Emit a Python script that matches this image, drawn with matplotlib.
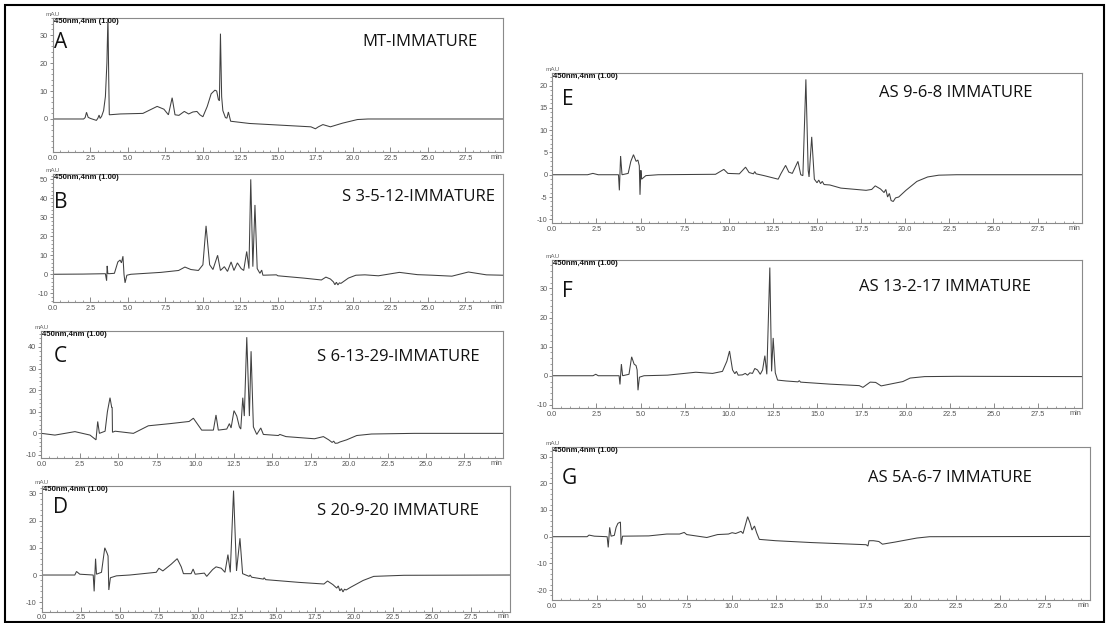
import matplotlib
matplotlib.use("Agg")
import matplotlib.pyplot as plt
from matplotlib.ticker import MultipleLocator
from matplotlib.patches import Rectangle

# ---------------- data (retention time in min, absorbance in mAU) ----------------
tA = [0, 2.05, 2.15, 2.24, 2.35, 2.5, 2.9, 3.0, 3.08, 3.15,
      3.25, 3.38, 3.5, 3.6, 3.67, 3.72, 3.76, 4.5, 6.0, 6.95,
      7.4, 7.7, 7.95, 8.14, 8.4, 8.76, 9.05, 9.33, 9.6, 9.8,
      10.0, 10.29, 10.55, 10.8, 10.92, 11.03, 11.1, 11.17, 11.25, 11.33,
      11.5, 11.6, 11.7, 11.85, 13.1, 15.5, 17.2, 17.5, 17.7, 18.0,
      18.5, 19.3, 20.3, 21.0, 30.0]
vA = [0, 0, 0.5, 2.4, 0.6, 0.2, -0.5, 0.3, 1.4, 0.2,
      1.0, 3.0, 8.0, 20.0, 37.0, 15.0, 1.5, 1.8, 2.0, 4.5,
      3.5, 1.5, 7.6, 1.5, 1.3, 2.7, 1.8, 2.5, 2.7, 1.5,
      0.8, 4.5, 9.0, 10.3, 10.0, 7.0, 6.5, 30.5, 8.0, 3.0,
      0.5, 0.3, 2.5, -0.8, -1.6, -2.3, -2.8, -3.5, -2.8, -2.0,
      -2.8, -1.5, -0.2, 0.0, 0.0]

tB = [0, 2.0, 3.5, 3.58, 3.62, 3.66, 3.72,
      4.1, 4.33, 4.48, 4.57, 4.67, 4.74, 4.81, 4.93, 5.2,
      7.2, 8.38, 8.8, 9.2, 9.7, 10.0, 10.21, 10.45, 10.67, 10.98,
      11.17, 11.43, 11.64, 11.88, 12.07, 12.3, 12.55, 12.72, 12.92, 13.07,
      13.19, 13.33, 13.47, 13.62, 13.8, 13.92, 14.0, 14.9, 15.0, 16.7,
      17.9, 18.2, 18.5, 18.7, 18.8, 18.9, 19.0, 19.1, 19.2, 19.7,
      20.2, 20.8, 21.7, 23.1, 24.3, 25.3, 26.6, 27.7, 28.9, 30.0]
vB = [0, 0.1, 0.3, -3.4, 4.4, 0.5, 0.3,
      0.5, 6.5, 7.5, 6.0, 9.5, 0.0, -4.5, -0.5, 0.0,
      1.0, 2.0, 3.8, 2.5, 2.0, 5.0, 25.5, 5.0, 2.5, 10.0,
      2.0, 4.0, 1.5, 6.5, 2.0, 6.0, 3.0, 2.0, 12.0, 3.0,
      50.0, 4.0, 36.5, 3.0, 0.5, 2.2, -0.5, -0.3, -0.8, -2.0,
      -3.0, -1.5, -2.5, -4.0, -5.5, -4.2, -5.6, -4.5, -4.8, -2.0,
      -0.5, -0.3, -0.8, 1.0, -0.2, -0.5, -1.0, 1.2, -0.3, -0.5]

tC = [0, 0.88, 2.18, 3.16, 3.55, 3.66, 3.77, 4.14, 4.29, 4.46,
      4.57, 4.6, 4.62, 4.79, 5.98, 6.95, 8.36, 9.6, 9.88, 10.42,
      11.18, 11.35, 11.5, 12.05, 12.22, 12.33, 12.52, 12.7, 12.87, 12.96,
      13.09, 13.19, 13.35, 13.52, 13.63, 13.78, 14.0, 14.26, 14.43, 15.4,
      15.5, 15.9, 17.75, 18.33, 18.68, 18.9, 19.0, 19.1, 19.26, 19.4,
      19.84, 20.5, 21.46, 24.25, 30.0]
vC = [0, -0.8, 0.8, -0.8, -3.0, 5.5, 0.0, 1.0, 10.0, 16.5,
      12.0, 12.0, 0.5, 1.0, 0.0, 3.5, 4.5, 5.5, 7.0, 1.5,
      1.5, 8.5, 1.5, 2.0, 4.5, 2.5, 10.5, 8.0, 3.0, 2.0,
      16.5, 8.0, 44.5, 8.0, 38.0, 3.0, -0.5, 2.5, -0.5, -1.0,
      -0.5, -1.5, -2.5, -1.5, -3.0, -4.2, -3.6, -4.6, -4.5, -4.0,
      -3.0, -1.0, -0.3, 0.0, 0.0]

tD = [0, 2.12, 2.23, 2.44, 3.3, 3.36, 3.45, 3.51, 3.83, 4.04,
      4.19, 4.25, 4.3, 4.4, 4.79, 5.64, 7.34, 7.51, 7.76, 8.3,
      8.68, 8.94, 9.08, 9.57, 9.7, 9.83, 10.42, 10.57, 10.95, 11.17,
      11.5, 11.74, 11.93, 12.08, 12.29, 12.48, 12.7, 12.87, 13.29, 13.35,
      13.45, 14.2, 14.25, 14.35, 16.48, 18.08, 18.31, 18.65, 18.9, 19.0,
      19.1, 19.2, 19.3, 19.4, 19.5, 19.79, 20.59, 21.27, 23.2, 30.0]
vD = [0, 0, 1.3, 0.3, 0, -6.0, 6.0, 0.3, 1.0, 10.0,
      8.0, 7.0, -5.5, -1.0, -0.3, 0.0, 1.0, 2.5, 1.5, 4.0,
      6.0, 3.0, 0.5, 0.5, 2.2, 0.3, 0.7, -0.5, 2.0, 3.0,
      2.5, 1.0, 7.5, 1.0, 31.0, 1.5, 13.5, 0.5, -0.5, 0.0,
      -0.8, -1.5, -1.0, -1.7, -2.7, -3.3, -2.2, -3.5, -4.8, -4.0,
      -5.8, -5.0, -6.2, -5.2, -5.5, -4.5, -2.0, -0.5, -0.1, 0.0]

tE = [0, 2.0, 2.3, 2.6, 3.75, 3.8, 3.87, 3.95, 4.3, 4.45,
      4.6, 4.75, 4.85, 4.93, 4.97, 5.02, 5.06, 5.3, 6.0, 9.25,
      9.72, 9.95, 10.6, 10.95, 11.15, 11.4, 11.47, 11.55, 12.0, 12.8,
      12.95, 13.22, 13.4, 13.6, 13.92, 14.08, 14.2, 14.37, 14.5, 14.55,
      14.7, 14.85, 15.0, 15.1, 15.2, 15.3, 15.4, 15.73, 16.35, 17.78,
      18.1, 18.3, 18.6, 18.8, 18.9, 19.0, 19.1, 19.2, 19.32, 19.45,
      19.63, 20.04, 20.66, 21.27, 21.9, 22.9, 30.0]
vE = [0, 0, 0.3, 0, 0, -3.5, 4.2, 0, 0.3, 3.0,
      4.5, 3.0, 3.3, 2.0, -4.5, 1.0, -1.0, -0.2, 0, 0.1,
      1.2, 0.3, 0.2, 1.7, 0.5, 0.2, 0.7, 0.2, -0.2, -1.0,
      0.2, 2.1, 0.6, 0.3, 3.0, 0.0, -0.2, 21.4, 1.0, -0.5,
      8.5, -1.0, -1.8, -1.2, -2.0, -1.5, -2.2, -2.3, -3.0, -3.5,
      -3.3, -2.5, -3.2, -4.0, -3.3, -5.0, -4.2, -5.8, -6.0, -5.2,
      -5.0, -3.5, -1.5, -0.5, -0.1, 0.0, 0.0]

tF = [0, 2.3, 2.46, 2.6, 3.78, 3.83, 3.91, 3.98, 4.34, 4.49,
      4.63, 4.74, 4.8, 4.85, 4.93, 5.19, 6.52, 8.12, 9.07, 9.63,
      9.88, 10.03, 10.2, 10.33, 10.42, 10.52, 10.76, 10.92, 11.05, 11.18,
      11.33, 11.46, 11.61, 11.77, 11.9, 12.03, 12.14, 12.31, 12.41, 12.5,
      12.62, 12.75, 13.22, 13.9, 13.98, 14.05, 15.73, 17.37, 17.58, 17.99,
      18.3, 18.61, 19.43, 19.84, 20.25, 21.07, 22.9, 30.0]
vF = [0, 0, 0.5, 0, 0, -3.0, 4.0, 0, 0.5, 6.5,
      4.0, 3.5, 2.0, -5.0, -0.5, 0, 0.2, 1.2, 0.8, 1.5,
      5.0, 8.5, 2.0, 0.7, 1.5, 0.2, 0.3, 0.8, 0.2, 1.0,
      0.8, 2.5, 2.0, 0.5, 2.0, 6.9, 0.5, 37.2, 1.5, 13.0,
      1.0, -1.5, -1.8, -2.1, -1.7, -2.2, -2.9, -3.4, -4.0, -2.2,
      -2.3, -3.5, -2.5, -2.0, -0.8, -0.3, -0.2, -0.3]

tG = [0, 1.94, 2.05, 2.35, 3.06, 3.12, 3.2, 3.28, 3.46, 3.56,
      3.66, 3.8, 3.84, 3.92, 5.38, 6.39, 7.1, 7.36, 7.5, 8.62,
      9.22, 9.83, 10.03, 10.23, 10.53, 10.64, 10.9, 11.04, 11.14, 11.28,
      11.4, 11.55, 12.46, 14.48, 17.51, 17.61, 17.67, 17.92, 18.22, 18.42,
      19.13, 19.53, 20.34, 21.05, 30.0]
vG = [0, 0, 0.6, 0.2, 0, -4.0, 3.5, 0.2, 0.5, 3.5,
      5.0, 5.5, -3.0, 0.2, 0.3, 1.0, 1.0, 1.6, 0.8, -0.3,
      0.8, 1.0, 1.5, 1.2, 2.0, 1.2, 7.5, 5.0, 2.5, 4.0,
      1.5, -1.0, -1.5, -2.2, -3.0, -3.5, -1.5, -1.5, -1.8, -2.8,
      -2.0, -1.5, -0.5, 0.0, 0.1]

letters = ["A", "B", "C", "D", "E", "F", "G"]
titles = ["MT-IMMATURE", "S 3-5-12-IMMATURE", "S 6-13-29-IMMATURE",
          "S 20-9-20 IMMATURE", "AS 9-6-8 IMMATURE", "AS 13-2-17 IMMATURE",
          "AS 5A-6-7 IMMATURE"]
yticks_list = [[0, 10, 20, 30], [-10, 0, 10, 20, 30, 40, 50],
               [-10, 0, 10, 20, 30, 40], [-10, 0, 10, 20, 30],
               [-10, -5, 0, 5, 10, 15, 20], [-10, 0, 10, 20, 30],
               [-20, -10, 0, 10, 20, 30]]
xtick_vals = [0.0, 2.5, 5.0, 7.5, 10.0, 12.5, 15.0, 17.5, 20.0, 22.5, 25.0, 27.5]
series = [(tA, vA), (tB, vB), (tC, vC), (tD, vD), (tE, vE), (tF, vF), (tG, vG)]

# ---------------- layout (pixel positions) ----------------
W, H = 1108, 623
boxes = [(52.9, 18.0, 502.9, 152.0), (52.9, 174.0, 502.9, 302.0),
         (41.4, 330.7, 502.9, 458.0), (41.7, 486.0, 510.0, 611.5),
         (552.3, 72.7, 1081.7, 223.3), (552.3, 260.0, 1082.4, 408.3),
         (552.3, 446.7, 1090.0, 600.0)]
ylims = [(-11.8, 36.1), (-14.6, 52.8), (-11.4, 47.5), (-13.4, 32.7),
         (-10.9, 22.9), (-11.2, 39.8), (-23.7, 33.7)]
yminor = [2, 2, 2, 2, 1, 2, 2]
title_pos = [(362.5, 42.3), (342.0, 197.0), (317.0, 356.7), (317.0, 510.7),
             (878.8, 93.3), (858.8, 286.7), (867.9, 478.3)]
letter_pos = [(53.6, 42.0), (53.6, 203.0), (53.6, 356.7), (53.0, 507.3),
              (561.7, 99.3), (561.7, 291.7), (561.7, 478.3)]

fig = plt.figure(figsize=(W / 100, H / 100), dpi=100)
fig.patch.set_facecolor("white")

TICKFONT = "Liberation Sans"
for i in range(7):
    x0, y0, x1, y1 = boxes[i]
    ax = fig.add_axes([x0 / W, 1 - y1 / H, (x1 - x0) / W, (y1 - y0) / H])
    t, v = series[i]
    ax.plot(t, v, color="#404040", lw=0.75, solid_joinstyle="miter")
    ax.set_xlim(0, 30)
    ax.set_ylim(*ylims[i])
    ax.set_xticks(xtick_vals)
    ax.set_xticklabels(["%.1f" % x for x in xtick_vals])
    ax.xaxis.set_minor_locator(MultipleLocator(0.5))
    ax.set_yticks(yticks_list[i])
    ax.set_yticklabels([str(y) for y in yticks_list[i]])
    ax.yaxis.set_minor_locator(MultipleLocator(yminor[i]))
    for s in ax.spines.values():
        s.set_color("#8a8a8a")
        s.set_linewidth(0.8)
    ax.tick_params(axis="x", which="major", direction="in", length=3.5, width=0.6,
                   color="#777777", labelsize=5.3, labelcolor="#555555", pad=2.0)
    ax.tick_params(axis="x", which="minor", direction="in", length=1.8, width=0.5,
                   color="#777777")
    ax.tick_params(axis="y", which="major", direction="out", length=2.5, width=0.6,
                   color="#777777", labelsize=5.3, labelcolor="#555555", pad=1)
    ax.tick_params(axis="y", which="minor", direction="out", length=1.2, width=0.5,
                   color="#777777")
    for lab in ax.get_xticklabels() + ax.get_yticklabels():
        lab.set_family(TICKFONT)

    fig.text(x0 / W, 1 - (y0 - 1.0) / H, "mAU", ha="center", va="bottom",
             fontsize=4.6, color="#666666", family=TICKFONT)
    fig.text((x0 + 1.0) / W, 1 - (y0 + 0.3) / H, "450nm,4nm (1.00)", ha="left",
             va="top", fontsize=5.6, weight="bold", color="#111111", family=TICKFONT)
    fig.text((x1 - 1.0) / W, 1 - (y1 + 2.0) / H, "min", ha="right", va="top",
             fontsize=5.3, color="#555555", family=TICKFONT)
    lx, ly = letter_pos[i]
    fig.text(lx / W, 1 - ly / H, letters[i], ha="left", va="center",
             fontsize=15, color="#111111", family="Open Sans")
    tx, ty = title_pos[i]
    fig.text(tx / W, 1 - ty / H, titles[i], ha="left", va="center",
             fontsize=12, color="#111111", family="Open Sans")

fig.add_artist(Rectangle((5 / W, 1 - 622.0 / H), (1104 - 5) / W, (622.0 - 5) / H,
                         transform=fig.transFigure, fill=False, lw=1.5,
                         edgecolor="black"))

fig.savefig("out.png", dpi=100, facecolor="white")
